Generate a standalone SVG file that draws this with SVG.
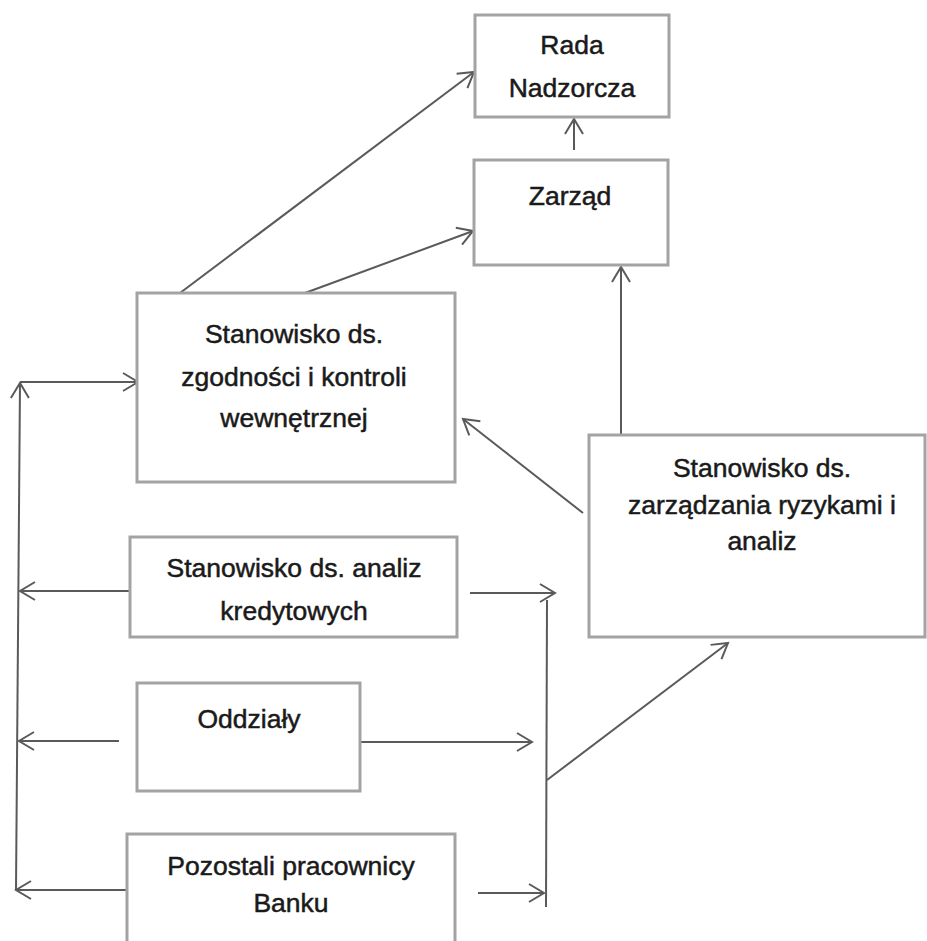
<svg xmlns="http://www.w3.org/2000/svg" width="927" height="941" viewBox="0 0 927 941">
<style>
.box{fill:#fff;stroke:#a3a3a3;stroke-width:3}
.t{font-family:"Liberation Sans",Arial,sans-serif;font-size:26.5px;fill:#1a1a1a;stroke:#1a1a1a;stroke-width:0.5;text-anchor:middle}
.c{fill:none;stroke:#5a5a5a;stroke-width:2}
</style>
<defs>
<marker id="ah" markerUnits="userSpaceOnUse" markerWidth="22" markerHeight="22" viewBox="-17 -11 19 22" refX="0" refY="0" orient="auto">
<path d="M-15,-9 L0,0 L-15,9" fill="none" stroke="#5a5a5a" stroke-width="2"/>
</marker>
</defs>
<rect width="927" height="941" fill="#fff"/>
<g id="connectors">
<line class="c" x1="574" y1="150" x2="574" y2="119" marker-end="url(#ah)"/>
<line class="c" x1="621" y1="435" x2="621" y2="267" marker-end="url(#ah)"/>
<line class="c" x1="180" y1="293" x2="474" y2="72" marker-end="url(#ah)"/>
<line class="c" x1="305" y1="293" x2="473" y2="231" marker-end="url(#ah)"/>
<line class="c" x1="583" y1="513" x2="463" y2="419" marker-end="url(#ah)"/>
<line class="c" x1="16" y1="890" x2="20" y2="383" marker-end="url(#ah)"/>
<line class="c" x1="20" y1="382" x2="138" y2="382" marker-end="url(#ah)"/>
<line class="c" x1="130" y1="591" x2="20" y2="591" marker-end="url(#ah)"/>
<line class="c" x1="119" y1="741" x2="19" y2="741" marker-end="url(#ah)"/>
<line class="c" x1="127" y1="890" x2="16" y2="890" marker-end="url(#ah)"/>
<line class="c" x1="470" y1="593" x2="555" y2="593" marker-end="url(#ah)"/>
<line class="c" x1="360" y1="742" x2="532" y2="742" marker-end="url(#ah)"/>
<line class="c" x1="478" y1="893" x2="544" y2="893" marker-end="url(#ah)"/>
<line class="c" x1="547" y1="600" x2="546" y2="907"/>
<line class="c" x1="547" y1="780" x2="728" y2="643" marker-end="url(#ah)"/>
</g>
<g id="rada">
<rect class="box" x="475" y="15" width="194" height="102"/>
<text class="t" x="572" y="54">Rada</text>
<text class="t" x="572" y="97">Nadzorcza</text>
</g>
<g id="zarzad">
<rect class="box" x="474" y="160" width="194" height="105"/>
<text class="t" x="570" y="205">Zarząd</text>
</g>
<g id="zgodnosc">
<rect class="box" x="137" y="293" width="318" height="189"/>
<text class="t" x="294" y="343">Stanowisko ds.</text>
<text class="t" x="294" y="386">zgodności i kontroli</text>
<text class="t" x="294" y="427">wewnętrznej</text>
</g>
<g id="ryzyko">
<rect class="box" x="589" y="435" width="336" height="202"/>
<text class="t" x="762" y="477">Stanowisko ds.</text>
<text class="t" x="762" y="514">zarządzania ryzykami i</text>
<text class="t" x="762" y="550">analiz</text>
</g>
<g id="kredyty">
<rect class="box" x="130" y="537" width="327" height="100"/>
<text class="t" x="294" y="577">Stanowisko ds. analiz</text>
<text class="t" x="294" y="620">kredytowych</text>
</g>
<g id="oddzialy">
<rect class="box" x="137" y="683" width="223" height="108"/>
<text class="t" x="249" y="728">Oddziały</text>
</g>
<g id="pozostali">
<rect class="box" x="127" y="834" width="328" height="120"/>
<text class="t" x="291" y="875">Pozostali pracownicy</text>
<text class="t" x="291" y="912">Banku</text>
</g>
</svg>
